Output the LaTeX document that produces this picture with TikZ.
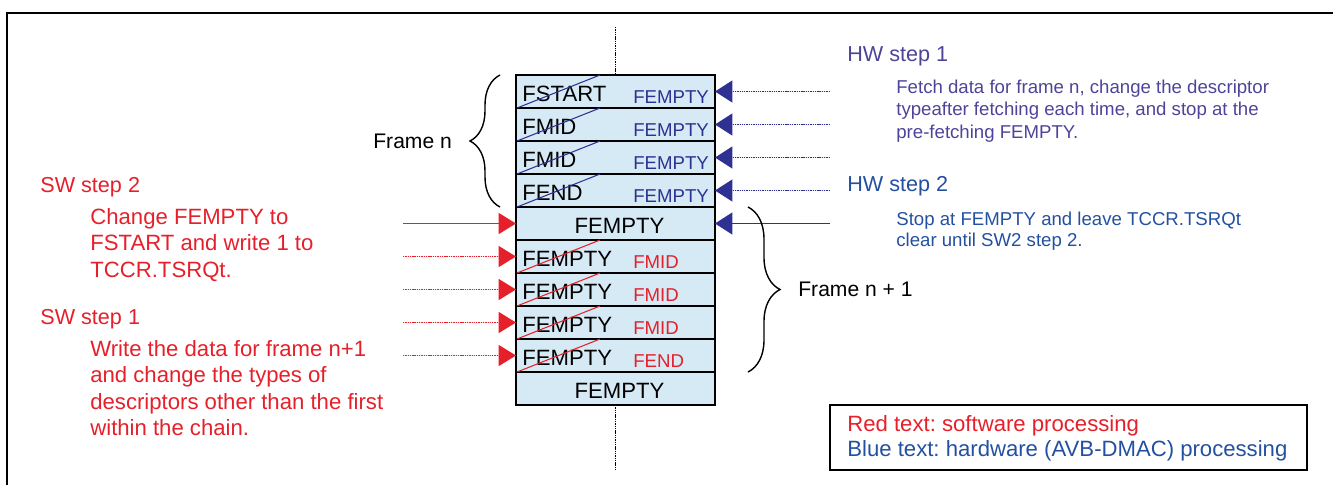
\documentclass[tikz,border=0pt]{standalone}
\usepackage{fontspec}
\setmainfont{Liberation Sans}
\frenchspacing
\usetikzlibrary{arrows.meta,decorations.pathreplacing}
\definecolor{cellfill}{HTML}{D6EAF5}
\definecolor{swred}{HTML}{E5202A}
\definecolor{hwnavy}{HTML}{2E3192}
\definecolor{hwviolet}{HTML}{4D4499}
\definecolor{hwblue}{HTML}{2350A0}
\tikzset{
  cell/.style={draw,line width=1.6pt,fill=cellfill,minimum width=3.98cm,minimum height=0.66cm,inner sep=0pt,outer sep=0pt},
  oldtxt/.style={anchor=base west,inner sep=0pt,font=\fontsize{12.6}{15}\selectfont},
  midtxt/.style={anchor=base,inner sep=0pt,font=\fontsize{12.6}{15}\selectfont},
  hwtxt/.style={anchor=base west,inner sep=0pt,text=hwnavy,font=\fontsize{10.6}{12}\selectfont},
  swtxt/.style={anchor=base west,inner sep=0pt,text=swred,font=\fontsize{10.6}{12}\selectfont},
  hwstrike/.style={draw=hwnavy,line width=0.6pt},
  swstrike/.style={draw=swred,line width=0.6pt},
  hwtip/.style={draw=hwnavy,fill=hwnavy,line width=1pt,-{Triangle[length=0.35cm,width=0.44cm]}},
  swtip/.style={draw=swred,fill=swred,line width=1pt,-{Triangle[length=0.35cm,width=0.42cm]}},
  dotline/.style={dash pattern=on 0.8pt off 0.5pt},
  steptitle/.style={anchor=base west,inner sep=0pt,font=\fontsize{12.3}{15}\selectfont},
  swbody/.style={anchor=base west,inner sep=0pt,align=left,text=swred,font=\fontsize{12.6}{15}\selectfont},
  hwbody/.style={anchor=base west,inner sep=0pt,align=left,font=\fontsize{10.6}{12.75}\selectfont},
  legtxt/.style={anchor=base west,inner sep=0pt,font=\fontsize{12.6}{15}\selectfont},
  frm/.style={anchor=west,inner sep=0pt,font=\fontsize{12}{14}\selectfont},
  brc/.style={decorate,line width=0.8pt,decoration={brace,amplitude=#1}},
}
\begin{document}
\begin{tikzpicture}[x=0.02cm,y=-0.02cm]
\useasboundingbox (0,0) rectangle (1333,485);
\draw[line width=1.2pt] (7,485) |- (1333,12.7);

\coordinate (vtop) at (615.5,27);
\coordinate (vbot) at (615.5,470);
\foreach \i in {1,...,10} \node[cell] (r\i) at (615.5,{58.5+33*\i}) {};
\draw[dotline,line width=0.8pt] (vtop) -- (r1.north) (r10.south) -- (vbot);

\foreach \o [count=\i] in {FSTART,FMID,FMID,FEND} {
  \node[oldtxt] (o\i) at (522,{68.5+33*\i}) {\o};
  \node[hwtxt] (n\i) at (633,{70+33*\i}) {FEMPTY};
  \draw[hwstrike] (517,{75+33*\i}) -- (600,{42+33*\i});
}
\foreach \n [count=\i from 6] in {FMID,FMID,FMID,FEND} {
  \node[oldtxt] (o\i) at (522,{68.5+33*\i}) {FEMPTY};
  \node[swtxt] (n\i) at (633,{70+33*\i}) {\n};
  \draw[swstrike] (517,{75+33*\i}) -- (600,{42+33*\i});
}
\node[midtxt] (o5) at (619.5,{68.5+33*5}) {FEMPTY};
\node[midtxt] (o10) at (619.5,{68.5+33*10}) {FEMPTY};

\foreach \i in {1,...,4} {
  \coordinate (h\i) at (830,{58.5+33*\i});
  \draw[hwtip,dotline] (h\i) -- (r\i.east);
}
\coordinate (h5) at (830,223.5);
\draw[hwtip] (h5) -- (r5.east);
\coordinate (s5) at (403,223.5);
\draw[swtip] (s5) -- (r5.west);
\foreach \i in {6,...,9} {
  \coordinate (s\i) at (403,{58.5+33*\i});
  \draw[swtip,dotline] (s\i) -- (r\i.west);
}

\draw[brc=0.6cm] (500,207) -- (500,75);
\node[frm] (fn) at (373,141) {Frame n};
\draw[brc=0.64cm] (748,207) -- (748,372);
\node[frm] (fn1) at (798,289) {Frame n + 1};

\node[steptitle,text=swred] (sw2) at (40,192) {SW step 2};
\node[swbody] (sw2txt) at (90,277) {Change FEMPTY to\\FSTART and write 1 to\\TCCR.TSRQt.};
\node[steptitle,text=swred] (sw1) at (40,324) {SW step 1};
\node[swbody] (sw1txt) at (90,435.5) {Write the data for frame n+1\\and change the types of\\descriptors other than the first\\within the chain.};

\node[steptitle,text=hwviolet] (hw1) at (847,61) {HW step 1};
\node[hwbody,text=hwviolet] (hw1txt) at (896,138.3) {Fetch data for frame n, change the descriptor\\typeafter fetching each time, and stop at the\\pre-fetching FEMPTY.};
\node[steptitle,text=hwblue] (hw2) at (847,191.7) {HW step 2};
\node[hwbody,text=hwblue,font=\fontsize{10.6}{12.2}\selectfont] (hw2txt) at (896,246.5) {Stop at FEMPTY and leave TCCR.TSRQt\\clear until SW2 step 2.};

\node[draw,line width=1.4pt,minimum width=9.54cm,minimum height=1.3cm,inner sep=0pt] (legend) at (1068.5,437.5) {};
\node[legtxt,text=swred] (legsw) at (847,431) {Red text: software processing};
\node[legtxt,text=hwblue] (leghw) at (847,456.7) {Blue text: hardware (AVB-DMAC) processing};
\end{tikzpicture}
\end{document}
